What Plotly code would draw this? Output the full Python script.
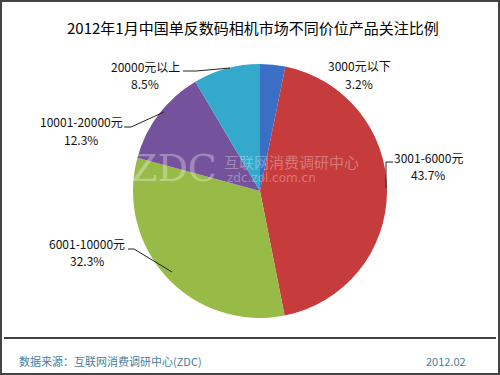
import plotly.graph_objects as go

categories = ["3000元以下", "3001-6000元", "6001-10000元", "10001-20000元", "20000元以上"]
values = [3.2, 43.7, 32.3, 12.3, 8.5]
colors = ["#3b6fc6", "#c63c3c", "#98bb48", "#74539c", "#33aacb"]

W, H = 500, 375
cx, cy, r = 260, 191, 127

def px(x):
    return x / W

def py(y):
    return 1 - y / H

fig = go.Figure()
fig.add_trace(go.Pie(
    labels=categories, values=values, sort=False, direction="clockwise", rotation=0,
    marker=dict(colors=colors, line=dict(width=0)),
    textinfo="none", hoverinfo="label+percent", showlegend=False,
    domain=dict(x=[px(cx - r), px(cx + r)], y=[py(cy + r), py(cy - r)]),
))

# label placement: (x center, y of first line) in pixels, and leader lines
label_pos = [(359, 66), (428, 157), (87, 243), (81, 122), (145, 67)]
line_gap = 17
leaders = [
    None,
    [(386, 188), (386, 162), (393, 162)],
    [(128, 249), (134, 249), (172, 272)],
    [(124, 127), (131, 127), (164, 112)],
    [(183, 71), (196, 71), (230, 68)],
]
annotations = []
shapes = []
lab_font = dict(family="Noto Sans CJK SC", size=12, color="#111111")
for cat, val, (lx, ly), ld in zip(categories, values, label_pos, leaders):
    annotations.append(dict(
        x=px(lx), y=py(ly), xref="paper", yref="paper", showarrow=False,
        xanchor="center", yanchor="middle", text=cat, font=lab_font))
    annotations.append(dict(
        x=px(lx), y=py(ly + line_gap), xref="paper", yref="paper", showarrow=False,
        xanchor="center", yanchor="middle", text=f"{val}%", font=lab_font))
    if ld:
        path = "M " + " L ".join(f"{px(a)},{py(b)}" for a, b in ld)
        shapes.append(dict(type="path", xref="paper", yref="paper", path=path,
                           line=dict(color="#222222", width=1)))

# watermark
wm = "rgba(255,255,255,0.33)"
annotations += [
    dict(x=px(174), y=py(168), xref="paper", yref="paper", showarrow=False, text="ZDC",
         xanchor="center", yanchor="middle",
         font=dict(family="DejaVu Serif", size=38, color=wm)),
    dict(x=px(291), y=py(161), xref="paper", yref="paper", showarrow=False, text="互联网消费调研中心",
         xanchor="center", yanchor="middle",
         font=dict(family="Noto Sans CJK SC", size=15, color=wm)),
    dict(x=px(271), y=py(178), xref="paper", yref="paper", showarrow=False, text="zdc.zol.com.cn",
         xanchor="center", yanchor="middle",
         font=dict(family="DejaVu Sans", size=12, color=wm)),
]

# title and footer
annotations += [
    dict(x=px(253), y=py(28), xref="paper", yref="paper", showarrow=False,
         xanchor="center", yanchor="middle",
         text="2012年1月中国单反数码相机市场不同价位产品关注比例",
         font=dict(family="Noto Sans CJK SC", size=15, color="#000000")),
    dict(x=px(17), y=py(361), xref="paper", yref="paper", showarrow=False,
         xanchor="left", yanchor="middle",
         text="数据来源：互联网消费调研中心(ZDC)",
         font=dict(family="Noto Sans CJK SC", size=11, color="#4a7d98")),
    dict(x=px(468), y=py(361), xref="paper", yref="paper", showarrow=False,
         xanchor="right", yanchor="middle",
         text="2012.02",
         font=dict(family="Noto Sans CJK SC", size=11, color="#4a7d98")),
]

shapes += [
    dict(type="rect", xref="paper", yref="paper", x0=px(1), y0=py(374), x1=px(499), y1=py(1),
         line=dict(color="#444444", width=2)),
    dict(type="line", xref="paper", yref="paper", x0=px(4), y0=py(338), x1=px(496), y1=py(338),
         line=dict(color="#000000", width=1.5)),
]

fig.update_layout(
    width=W, height=H, margin=dict(l=0, r=0, t=0, b=0),
    paper_bgcolor="white", plot_bgcolor="white",
    annotations=annotations, shapes=shapes,
)

fig.write_html("out.html")
